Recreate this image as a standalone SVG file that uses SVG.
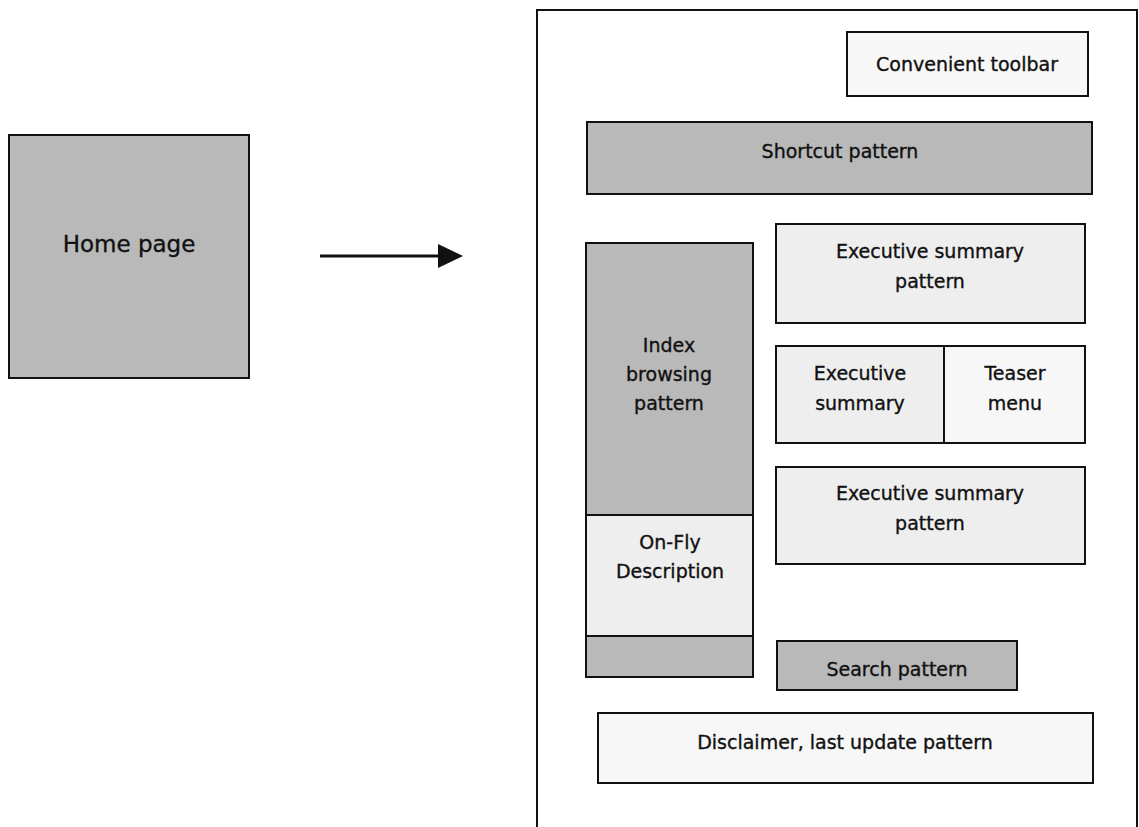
<svg xmlns="http://www.w3.org/2000/svg" width="1139" height="827" viewBox="0 0 1139 827">
<style>
  .box{stroke:#111;stroke-width:2;}
  .dark{fill:#b9b9b9;}
  .light{fill:#eeeeee;}
  .pale{fill:#f7f7f7;}
  text{font-family:"Comic Sans MS","DejaVu Sans",sans-serif;font-size:19px;fill:#111;stroke:#111;stroke-width:0.35;text-anchor:middle;}
  .conn{stroke:#111;stroke-width:3;fill:none;}
</style>
<rect width="1139" height="827" fill="#fff"/>

<g id="home-page">
  <rect class="box dark" x="9" y="135" width="240" height="243"/>
  <text x="129" y="252" style="font-size:23px">Home page</text>
</g>

<g id="connectors">
  <line class="conn" x1="320" y1="256" x2="438" y2="256"/>
  <path d="M438,244 L463,256 L438,268 Z" fill="#111"/>
</g>

<g id="page-frame">
  <path d="M537,827 L537,10 L1137,10 L1137,827" fill="none" stroke="#111" stroke-width="2"/>
</g>

<g id="convenient-toolbar">
  <rect class="box pale" x="847" y="32" width="241" height="64"/>
  <text x="967" y="71">Convenient toolbar</text>
</g>

<g id="shortcut-pattern">
  <rect class="box dark" x="587" y="122" width="505" height="72"/>
  <text x="840" y="158">Shortcut pattern</text>
</g>

<g id="index-browsing-pattern">
  <rect class="box dark" x="586" y="243" width="167" height="272"/>
  <text x="669" y="352">Index</text>
  <text x="669" y="381">browsing</text>
  <text x="669" y="410">pattern</text>
</g>

<g id="on-fly-description">
  <rect class="box light" x="586" y="515" width="167" height="121"/>
  <text x="670" y="549">On-Fly</text>
  <text x="670" y="578">Description</text>
</g>

<g id="index-footer">
  <rect class="box dark" x="586" y="636" width="167" height="41"/>
</g>

<g id="executive-summary-pattern-1">
  <rect class="box light" x="776" y="224" width="309" height="99"/>
  <text x="930" y="258">Executive summary</text>
  <text x="930" y="288">pattern</text>
</g>

<g id="executive-summary">
  <rect class="box light" x="776" y="346" width="168" height="97"/>
  <text x="860" y="380">Executive</text>
  <text x="860" y="410">summary</text>
</g>

<g id="teaser-menu">
  <rect class="box pale" x="944" y="346" width="141" height="97"/>
  <text x="1015" y="380">Teaser</text>
  <text x="1015" y="410">menu</text>
</g>

<g id="executive-summary-pattern-2">
  <rect class="box light" x="776" y="467" width="309" height="97"/>
  <text x="930" y="500">Executive summary</text>
  <text x="930" y="530">pattern</text>
</g>

<g id="search-pattern">
  <rect class="box dark" x="777" y="641" width="240" height="49"/>
  <text x="897" y="676">Search pattern</text>
</g>

<g id="disclaimer">
  <rect class="box pale" x="598" y="713" width="495" height="70"/>
  <text x="845" y="749">Disclaimer, last update pattern</text>
</g>
</svg>
